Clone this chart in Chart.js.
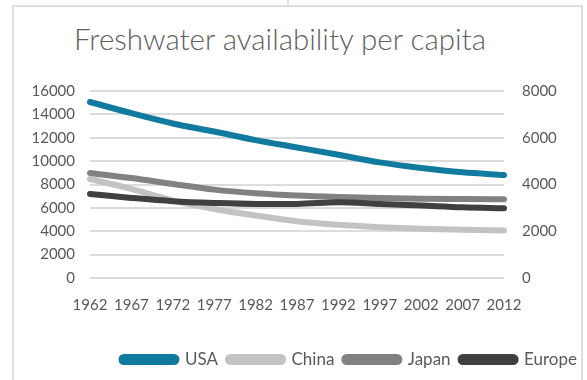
<!DOCTYPE html>
<html>
<head>
<meta charset="utf-8">
<script src="https://cdn.jsdelivr.net/npm/chart.js@4.4.1/dist/chart.umd.min.js"></script>
<style>
  html, body { margin: 0; padding: 0; background: #fff; }
  #wrap { position: relative; width: 587px; height: 380px; overflow: hidden; }
  #frame { position: absolute; left: 12px; top: 5px; width: 571px; height: 400px;
           border: 2px solid #dedede; box-sizing: border-box; }
  #notch { position: absolute; left: 287px; top: 0; width: 2px; height: 6px; background: #dedede; }
  #title { position: absolute; left: 74px; top: 21px; font: 300 29.5px Lato, sans-serif;
           color: #5f5f5f; white-space: nowrap; }
  canvas { position: absolute; left: 0; top: 0; }
</style>
</head>
<body>
<div id="wrap">
  <div id="notch"></div>
  <div id="frame"></div>
  <div id="title">Freshwater availability per capita</div>
  <canvas id="myChart" width="587" height="380"></canvas>
</div>
<script>
let years = ["1962", "1967", "1972", "1977", "1982", "1987", "1992", "1997", "2002", "2007", "2012"];
let usa = [15060, 14100, 13220, 12530, 11800, 11170, 10540, 9890, 9410, 9040, 8810];
let china = [8470, 7620, 6620, 5910, 5340, 4860, 4550, 4350, 4210, 4120, 4060];
let japan = [8980, 8550, 8040, 7560, 7250, 7050, 6930, 6850, 6790, 6760, 6740];
let europe = [7190, 6850, 6570, 6420, 6340, 6340, 6480, 6340, 6200, 6050, 5970];

let seriesNames = ["USA", "China", "Japan", "Europe"];
let seriesColors = ["#117a9f", "#c3c3c3", "#818181", "#404040"];
let seriesData = [usa, china, japan, europe];

let textColor = "#595959";
let fontFamily = "Lato, sans-serif";

let datasets = seriesNames.map((name, i) => {
  return {
    label: name,
    data: seriesData[i],
    borderColor: seriesColors[i],
    backgroundColor: seriesColors[i],
    borderWidth: 6,
    borderCapStyle: "round",
    pointRadius: 0,
    cubicInterpolationMode: "monotone",
    yAxisID: "y"
  };
});
// USA sits on top of the others
datasets.reverse();

// plain numbers, no thousands separator
function plainTick(value) {
  return String(value);
}

var ctx = document.getElementById("myChart").getContext("2d");
var myChart = new Chart(ctx, {
  type: "line",
  data: {
    labels: years,
    datasets: datasets
  },
  options: {
    responsive: false,
    animation: false,
    layout: { padding: { top: 91, right: 0, left: 0, bottom: 2 } },
    plugins: {
      title: { display: false },
      tooltip: { enabled: false },
      legend: {
        position: "bottom",
        align: "end",
        reverse: true,
        labels: {
          boxWidth: 55,
          boxHeight: 5,
          useBorderRadius: true,
          borderRadius: 2.5,
          padding: 10,
          color: textColor,
          font: { family: fontFamily, size: 17 }
        }
      }
    },
    scales: {
      x: {
        offset: false,
        grid: { display: false, drawTicks: false },
        border: { display: false },
        ticks: {
          autoSkip: false,
          maxRotation: 0,
          padding: 18,
          color: textColor,
          font: { family: fontFamily, size: 15 }
        },
        afterFit: (scale) => { scale.height = 63; }
      },
      y: {
        position: "left",
        min: 0,
        max: 16000,
        grid: { color: "#dcdcdc", lineWidth: 2, drawTicks: false },
        border: { display: false },
        ticks: {
          stepSize: 2000,
          padding: 15,
          color: textColor,
          font: { family: fontFamily, size: 15 },
          callback: plainTick
        },
        afterFit: (scale) => { scale.width = 90; }
      },
      y1: {
        position: "right",
        min: 0,
        max: 8000,
        grid: { drawOnChartArea: false, drawTicks: false },
        border: { display: false },
        ticks: {
          stepSize: 2000,
          padding: 18,
          color: textColor,
          font: { family: fontFamily, size: 15 },
          callback: plainTick
        },
        afterFit: (scale) => { scale.width = 83; }
      }
    }
  }
});
</script>
</body>
</html>
